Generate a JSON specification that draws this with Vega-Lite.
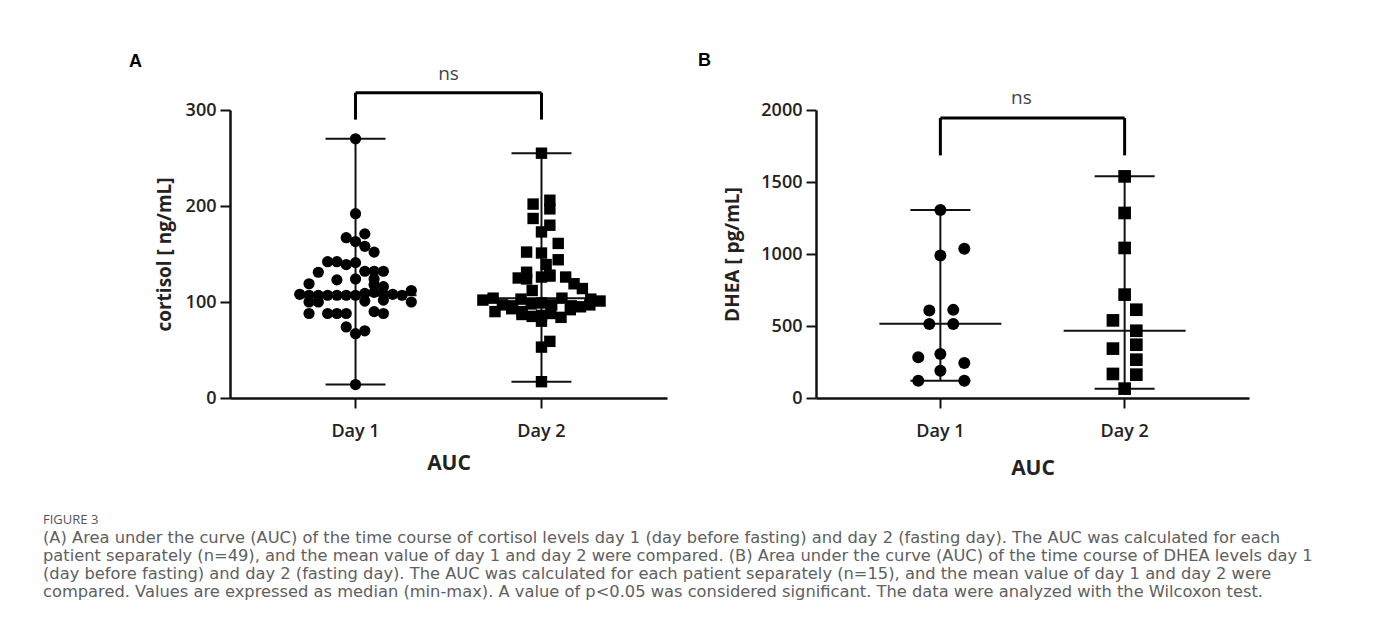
{
  "$schema": "https://vega.github.io/schema/vega-lite/v6.json",
  "autosize": {"type": "pad"},
  "padding": {"left": 43, "top": 52, "right": 0, "bottom": 0},
  "background": "white",
  "bounds": "flush",
  "spacing": 149,
  "datasets": {
    "cortisol": [
      {"day":"Day 1","slot":0,"v":270},{"day":"Day 1","slot":0,"v":192},{"day":"Day 1","slot":1,"v":171},{"day":"Day 1","slot":-1,"v":167},{"day":"Day 1","slot":0,"v":163},{"day":"Day 1","slot":1,"v":158},{"day":"Day 1","slot":2,"v":152},{"day":"Day 1","slot":-3,"v":142},{"day":"Day 1","slot":-2,"v":142},{"day":"Day 1","slot":-1,"v":139},
      {"day":"Day 1","slot":0,"v":141},{"day":"Day 1","slot":-4,"v":131},{"day":"Day 1","slot":1,"v":132},{"day":"Day 1","slot":2,"v":132},{"day":"Day 1","slot":3,"v":132},{"day":"Day 1","slot":-2,"v":123},{"day":"Day 1","slot":0,"v":124},{"day":"Day 1","slot":2,"v":124},{"day":"Day 1","slot":-5,"v":119},{"day":"Day 1","slot":2,"v":118},
      {"day":"Day 1","slot":3,"v":116},{"day":"Day 1","slot":-6,"v":108},{"day":"Day 1","slot":-5,"v":107},{"day":"Day 1","slot":-4,"v":107},{"day":"Day 1","slot":-3,"v":107},{"day":"Day 1","slot":-2,"v":107},{"day":"Day 1","slot":-1,"v":107},{"day":"Day 1","slot":0,"v":107},{"day":"Day 1","slot":1,"v":109},{"day":"Day 1","slot":2,"v":110},
      {"day":"Day 1","slot":3,"v":108},{"day":"Day 1","slot":4,"v":108},{"day":"Day 1","slot":5,"v":107},{"day":"Day 1","slot":6,"v":112},{"day":"Day 1","slot":-5,"v":100},{"day":"Day 1","slot":-4,"v":100},{"day":"Day 1","slot":1,"v":101},{"day":"Day 1","slot":3,"v":102},{"day":"Day 1","slot":6,"v":100},{"day":"Day 1","slot":-5,"v":88},
      {"day":"Day 1","slot":-3,"v":88},{"day":"Day 1","slot":-2,"v":88},{"day":"Day 1","slot":-1,"v":88},{"day":"Day 1","slot":2,"v":90},{"day":"Day 1","slot":3,"v":88},{"day":"Day 1","slot":-1,"v":74},{"day":"Day 1","slot":1,"v":70},{"day":"Day 1","slot":0,"v":67},{"day":"Day 1","slot":0,"v":14},
      {"day":"Day 2","slot":0,"v":255},{"day":"Day 2","slot":0.9,"v":206},{"day":"Day 2","slot":-0.9,"v":202},{"day":"Day 2","slot":0.9,"v":197},{"day":"Day 2","slot":-0.9,"v":187},{"day":"Day 2","slot":0.9,"v":180},{"day":"Day 2","slot":0,"v":173},{"day":"Day 2","slot":1.8,"v":161},{"day":"Day 2","slot":-1.6,"v":152},{"day":"Day 2","slot":0,"v":151},
      {"day":"Day 2","slot":1.8,"v":144},{"day":"Day 2","slot":0.5,"v":139},{"day":"Day 2","slot":-1.6,"v":131},{"day":"Day 2","slot":0.9,"v":128},{"day":"Day 2","slot":-2.5,"v":125},{"day":"Day 2","slot":-1.6,"v":124},{"day":"Day 2","slot":0,"v":126},{"day":"Day 2","slot":0.9,"v":127},{"day":"Day 2","slot":2.6,"v":126},{"day":"Day 2","slot":3.5,"v":119},
      {"day":"Day 2","slot":4.4,"v":114},{"day":"Day 2","slot":-1,"v":112},{"day":"Day 2","slot":-6.3,"v":102},{"day":"Day 2","slot":-5.2,"v":104},{"day":"Day 2","slot":-2.2,"v":103},{"day":"Day 2","slot":2.2,"v":104},{"day":"Day 2","slot":5.3,"v":103},{"day":"Day 2","slot":6.3,"v":101},{"day":"Day 2","slot":-4.2,"v":97},{"day":"Day 2","slot":-3.1,"v":96},
      {"day":"Day 2","slot":-1.1,"v":98},{"day":"Day 2","slot":0,"v":99},{"day":"Day 2","slot":1.1,"v":97},{"day":"Day 2","slot":3.2,"v":96},{"day":"Day 2","slot":4.2,"v":95},{"day":"Day 2","slot":5.2,"v":97},{"day":"Day 2","slot":-5,"v":90},{"day":"Day 2","slot":-2.1,"v":90},{"day":"Day 2","slot":-3.2,"v":93},{"day":"Day 2","slot":3.1,"v":92},
      {"day":"Day 2","slot":-2.1,"v":87},{"day":"Day 2","slot":-1,"v":85},{"day":"Day 2","slot":0,"v":86},{"day":"Day 2","slot":1,"v":88},{"day":"Day 2","slot":2.1,"v":84},{"day":"Day 2","slot":0,"v":80},{"day":"Day 2","slot":0.9,"v":59},{"day":"Day 2","slot":0,"v":53},{"day":"Day 2","slot":0,"v":17}
    ],
    "cortStats": [
      {"day":"Day 1","min":14,"median":107,"max":270},
      {"day":"Day 2","min":17,"median":104,"max":255}
    ],
    "cortBracket": [
      {"day":"Day 1","low":290,"high":318,"to":"Day 2","label":"ns","ly":338},
      {"day":"Day 2","low":290,"high":318,"to":"Day 2","label":"","ly":338}
    ],
    "dhea": [
      {"day":"Day 1","slot":0,"v":1305},{"day":"Day 1","slot":2.6,"v":1036},{"day":"Day 1","slot":0,"v":990},{"day":"Day 1","slot":-1.2,"v":607},{"day":"Day 1","slot":1.4,"v":612},{"day":"Day 1","slot":-1.2,"v":514},{"day":"Day 1","slot":1.4,"v":514},{"day":"Day 1","slot":-2.4,"v":283},{"day":"Day 1","slot":0,"v":306},{"day":"Day 1","slot":2.6,"v":243},{"day":"Day 1","slot":0,"v":190},{"day":"Day 1","slot":-2.4,"v":120},{"day":"Day 1","slot":2.6,"v":120},
      {"day":"Day 2","slot":0,"v":1539},{"day":"Day 2","slot":0,"v":1285},{"day":"Day 2","slot":0,"v":1042},{"day":"Day 2","slot":0,"v":718},{"day":"Day 2","slot":1.27,"v":613},{"day":"Day 2","slot":-1.27,"v":539},{"day":"Day 2","slot":1.27,"v":467},{"day":"Day 2","slot":1.27,"v":370},{"day":"Day 2","slot":-1.27,"v":343},{"day":"Day 2","slot":1.27,"v":266},{"day":"Day 2","slot":-1.27,"v":167},{"day":"Day 2","slot":1.27,"v":162},{"day":"Day 2","slot":0,"v":65}
    ],
    "dheaStats": [
      {"day":"Day 1","min":120,"median":515,"max":1305},
      {"day":"Day 2","min":65,"median":467,"max":1540}
    ],
    "dheaBracket": [
      {"day":"Day 1","low":1685,"high":1944,"to":"Day 2","label":"ns","ly":2083},
      {"day":"Day 2","low":1685,"high":1944,"to":"Day 2","label":"","ly":2083}
    ]
  },
  "title": {
    "text": "FIGURE 3",
    "subtitle": [
      "(A) Area under the curve (AUC) of the time course of cortisol levels day 1 (day before fasting) and day 2 (fasting day). The AUC was calculated for each",
      "patient separately (n=49), and the mean value of day 1 and day 2 were compared. (B) Area under the curve (AUC) of the time course of DHEA levels day 1",
      "(day before fasting) and day 2 (fasting day). The AUC was calculated for each patient separately (n=15), and the mean value of day 1 and day 2 were",
      "compared. Values are expressed as median (min-max). A value of p<0.05 was considered significant. The data were analyzed with the Wilcoxon test."
    ],
    "orient": "bottom",
    "anchor": "start",
    "frame": "bounds",
    "dx": -86,
    "font": "Open Sans",
    "fontSize": 13,
    "fontWeight": 400,
    "color": "#555555",
    "subtitleFont": "DejaVu Sans",
    "subtitleFontSize": 16.3,
    "subtitleFontWeight": "normal",
    "subtitleColor": "#606060",
    "subtitleLineHeight": 18,
    "subtitlePadding": 3,
    "offset": 36
  },
  "hconcat": [
    {
      "width": 437,
      "height": 288,
      "title": {"text": "A", "anchor": "start", "frame": "group", "dx": -101, "offset": -6, "font": "Liberation Sans", "fontSize": 18, "fontWeight": "bold", "color": "#000000"},
      "encoding": {
        "x": {"field": "day", "type": "nominal", "scale": {"type": "band", "domain": ["Day 1", "Day 2"], "paddingInner": 0, "paddingOuter": 0.175},
              "axis": {"title": "AUC", "labelAngle": 0, "labelPadding": 14, "titlePadding": 12, "titleFontSize": 21}},
        "y": {"type": "quantitative", "scale": {"domain": [0, 300], "nice": false, "zero": true},
              "axis": {"title": "cortisol [ ng/mL]", "values": [0, 100, 200, 300], "format": "d", "labelPadding": 4, "titlePadding": 11}}
      },
      "layer": [
        {"data": {"name": "cortStats"}, "mark": {"type": "rule", "color": "#111", "strokeWidth": 2}, "encoding": {"y": {"field": "min"}, "y2": {"field": "max"}}},
        {"data": {"name": "cortStats"}, "mark": {"type": "tick", "color": "#111", "size": 122, "thickness": 2, "opacity": 1}, "encoding": {"y": {"field": "median"}}},
        {"data": {"name": "cortStats"}, "mark": {"type": "tick", "color": "#111", "size": 60, "thickness": 2, "opacity": 1}, "encoding": {"y": {"field": "min"}}},
        {"data": {"name": "cortStats"}, "mark": {"type": "tick", "color": "#111", "size": 60, "thickness": 2, "opacity": 1}, "encoding": {"y": {"field": "max"}}},
        {"data": {"name": "cortisol"}, "mark": {"type": "point", "filled": true, "opacity": 1, "color": "#000000", "strokeWidth": 0},
         "encoding": {
           "xOffset": {"field": "slot", "type": "quantitative", "scale": {"domain": [-10, 10]}},
           "y": {"field": "v"},
           "shape": {"field": "day", "type": "nominal", "scale": {"domain": ["Day 1", "Day 2"], "range": ["circle", "square"]}, "legend": null},
           "size": {"field": "day", "type": "nominal", "scale": {"domain": ["Day 1", "Day 2"], "range": [125, 130]}, "legend": null}
         }},
        {"data": {"name": "cortBracket"}, "mark": {"type": "rule", "color": "#000", "strokeWidth": 3}, "encoding": {"y": {"field": "low"}, "y2": {"field": "high"}}},
        {"data": {"name": "cortBracket"}, "transform": [{"filter": "datum.label == 'ns'"}], "mark": {"type": "rule", "color": "#000", "strokeWidth": 3}, "encoding": {"x2": {"field": "to"}, "y": {"field": "high"}}},
        {"data": {"name": "cortBracket"}, "transform": [{"filter": "datum.label == 'ns'"}], "mark": {"type": "text", "font": "Open Sans", "fontSize": 19, "color": "#444", "dx": 93, "baseline": "middle"}, "encoding": {"y": {"field": "ly"}, "text": {"field": "label"}}}
      ]
    },
    {
      "width": 433,
      "height": 288,
      "title": {"text": "B", "anchor": "start", "frame": "group", "dx": -118, "offset": 19, "font": "Liberation Sans", "fontSize": 18, "fontWeight": "bold", "color": "#000000"},
      "encoding": {
        "x": {"field": "day", "type": "nominal", "scale": {"type": "band", "domain": ["Day 1", "Day 2"], "paddingInner": 0, "paddingOuter": 0.175},
              "axis": {"title": "AUC", "labelAngle": 0, "labelPadding": 14, "titlePadding": 17, "titleFontSize": 21}},
        "y": {"type": "quantitative", "scale": {"domain": [0, 2000], "nice": false, "zero": true},
              "axis": {"title": "DHEA [ pg/mL]", "values": [0, 500, 1000, 1500, 2000], "format": "d", "labelPadding": 4, "titlePadding": 18}}
      },
      "layer": [
        {"data": {"name": "dheaStats"}, "mark": {"type": "rule", "color": "#111", "strokeWidth": 2}, "encoding": {"y": {"field": "min"}, "y2": {"field": "max"}}},
        {"data": {"name": "dheaStats"}, "mark": {"type": "tick", "color": "#111", "size": 122, "thickness": 2, "opacity": 1}, "encoding": {"y": {"field": "median"}}},
        {"data": {"name": "dheaStats"}, "mark": {"type": "tick", "color": "#111", "size": 60, "thickness": 2, "opacity": 1}, "encoding": {"y": {"field": "min"}}},
        {"data": {"name": "dheaStats"}, "mark": {"type": "tick", "color": "#111", "size": 60, "thickness": 2, "opacity": 1}, "encoding": {"y": {"field": "max"}}},
        {"data": {"name": "dhea"}, "mark": {"type": "point", "filled": true, "opacity": 1, "color": "#000000", "strokeWidth": 0},
         "encoding": {
           "xOffset": {"field": "slot", "type": "quantitative", "scale": {"domain": [-10, 10]}},
           "y": {"field": "v"},
           "shape": {"field": "day", "type": "nominal", "scale": {"domain": ["Day 1", "Day 2"], "range": ["circle", "square"]}, "legend": null},
           "size": {"field": "day", "type": "nominal", "scale": {"domain": ["Day 1", "Day 2"], "range": [144, 160]}, "legend": null}
         }},
        {"data": {"name": "dheaBracket"}, "mark": {"type": "rule", "color": "#000", "strokeWidth": 3}, "encoding": {"y": {"field": "low"}, "y2": {"field": "high"}}},
        {"data": {"name": "dheaBracket"}, "transform": [{"filter": "datum.label == 'ns'"}], "mark": {"type": "rule", "color": "#000", "strokeWidth": 3}, "encoding": {"x2": {"field": "to"}, "y": {"field": "high"}}},
        {"data": {"name": "dheaBracket"}, "transform": [{"filter": "datum.label == 'ns'"}], "mark": {"type": "text", "font": "Open Sans", "fontSize": 19, "color": "#444", "dx": 81, "baseline": "middle"}, "encoding": {"y": {"field": "ly"}, "text": {"field": "label"}}}
      ]
    }
  ],
  "resolve": {"scale": {"x": "independent", "y": "independent", "shape": "independent", "size": "independent", "xOffset": "independent"}},
  "config": {
    "view": {"stroke": null},
    "font": "Open Sans",
    "axis": {
      "grid": false,
      "domainColor": "#111111",
      "domainWidth": 2.5,
      "tickColor": "#111111",
      "tickWidth": 2,
      "tickSize": 10,
      "labelFont": "Open Sans",
      "labelFontSize": 18,
      "labelFontWeight": 600,
      "labelColor": "#222222",
      "titleFont": "Open Sans",
      "titleFontSize": 19,
      "titleFontWeight": "bold",
      "titleColor": "#222222"
    }
  }
}
